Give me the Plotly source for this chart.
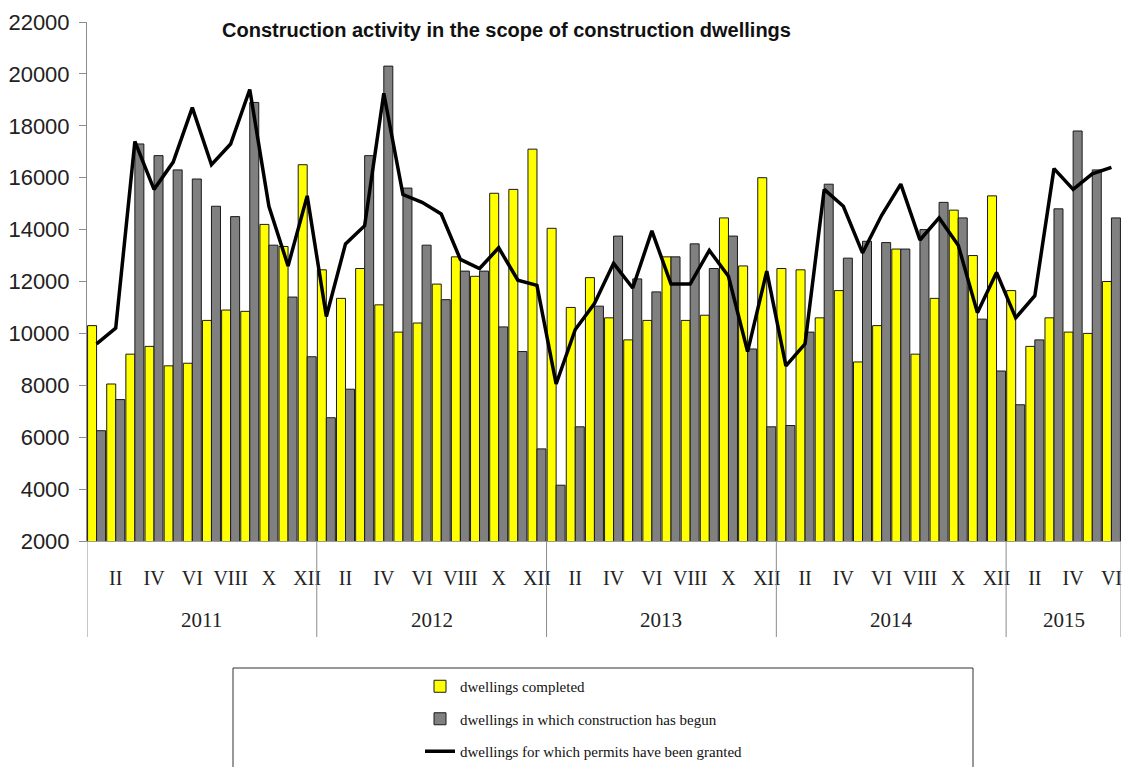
import plotly.graph_objects as go

years = [2011, 2012, 2013, 2014, 2015]
months_per_year = [12, 12, 12, 12, 6]
roman = ["I", "II", "III", "IV", "V", "VI", "VII", "VIII", "IX", "X", "XI", "XII"]

completed = [
    10300, 8050, 9200, 9500, 8750, 8850, 10500, 10900, 10850, 14200, 13350, 16500,
    12450, 11350, 12500, 11100, 10050, 10400, 11900, 12950, 12200, 15400, 15550, 17100,
    14050, 11000, 12150, 10600, 9750, 10500, 12950, 10500, 10700, 14450, 12600, 16000,
    12500, 12450, 10600, 11650, 8900, 10300, 13250, 9200, 11350, 14750, 13000, 15300,
    11650, 9500, 10600, 10050, 10000, 12000,
]
begun = [
    6250, 7450, 17300, 16850, 16300, 15950, 14900, 14500, 18900, 13400, 11400, 9100,
    6750, 7850, 16850, 20300, 15600, 13400, 11300, 12400, 12400, 10250, 9300, 5550,
    4150, 6400, 11050, 13750, 12100, 11600, 12950, 13450, 12500, 13750, 9400, 6400,
    6450, 10050, 15750, 12900, 13550, 13500, 13250, 14000, 15050, 14450, 10550, 8550,
    7250, 9750, 14800, 17800, 16300, 14450,
]
permits = [
    9600, 10200, 17400, 15550, 16600, 18700, 16500, 17300, 19400, 14900, 12600, 15300,
    10650, 13450, 14150, 19250, 15350, 15050, 14600, 12850, 12500, 13300, 12050, 11850,
    8050, 10150, 11150, 12700, 11750, 13950, 11900, 11900, 13200, 12200, 9300, 12400,
    8750, 9600, 15550, 14900, 13100, 14550, 15750, 13600, 14450, 13400, 10800, 12350,
    10600, 11450, 16350, 15550, 16150, 16400,
]

title_text = "Construction activity in the scope of construction dwellings"
series_names = [
    "dwellings completed",
    "dwellings in which construction has begun",
    "dwellings for which permits have been granted",
]

# build categories
cats, tickvals, ticktext = [], [], []
year_spans = []
for y, n in zip(years, months_per_year):
    start = len(cats)
    for m in range(n):
        c = f"{y}-{m + 1:02d}"
        cats.append(c)
        if (m + 1) % 2 == 0:
            tickvals.append(c)
            ticktext.append(roman[m])
    year_spans.append((y, start, len(cats) - 1))

fig = go.Figure()
fig.add_trace(go.Bar(
    x=cats, y=completed, name=series_names[0], legendgroup="a",
    marker=dict(color="#FFFF00", line=dict(color="#1a1a1a", width=1)),
))
fig.add_trace(go.Bar(
    x=cats, y=begun, name=series_names[1], legendgroup="b",
    marker=dict(color="#808080", line=dict(color="#1a1a1a", width=1)),
))
fig.add_trace(go.Scatter(
    x=cats, y=permits, name=series_names[2], legendgroup="c", mode="lines",
    line=dict(color="#000000", width=3.5),
))

# page body margin is removed via post_script, so the figure fills the window
W, H = 1123, 767
L, R, T, B = 87, 2, 22, 226
plot_h = H - T - B  # 519
plot_w = W - L - R


def py(px_from_axis):
    """paper y for a distance in px above (+) / below (-) the x axis."""
    return px_from_axis / plot_h


def pxx(window_x):
    return (window_x - L) / plot_w


shapes = []
divider_pos = [-0.5] + [end + 0.5 for (_, _, end) in year_spans]
for xp in divider_pos:
    shapes.append(dict(type="line", xref="x", yref="paper", x0=xp, x1=xp,
                       y0=0, y1=py(-96), line=dict(color="#8c8c8c", width=1)))
# legend box
shapes.append(dict(type="rect", xref="paper", yref="paper",
                   x0=pxx(233), x1=pxx(973), y0=py(-127), y1=py(-260),
                   line=dict(color="#333333", width=1), fillcolor="rgba(0,0,0,0)"))

annotations = []
for (y, s, e) in year_spans:
    annotations.append(dict(x=(s + e) / 2, y=py(-79), xref="x", yref="paper",
                            text=str(y), showarrow=False, yanchor="middle",
                            font=dict(family="Liberation Serif", size=21, color="#222222")))
annotations.append(dict(x=pxx(506), y=py(511), xref="paper", yref="paper", text=f"<b>{title_text}</b>",
                        showarrow=False, xanchor="center", yanchor="middle",
                        font=dict(family="Liberation Sans", size=20, color="#111111")))

fig.update_layout(
    width=W, height=H,
    margin=dict(l=L, r=R, t=T, b=B, autoexpand=False),
    paper_bgcolor="white", plot_bgcolor="white",
    barmode="group", bargap=0.06, bargroupgap=0,
    showlegend=True,
    legend=dict(x=pxx(420), y=py(-129), xanchor="left", yanchor="top",
                bgcolor="rgba(0,0,0,0)", borderwidth=0, tracegroupgap=10,
                font=dict(family="Liberation Serif", size=15, color="#111111")),
    shapes=shapes, annotations=annotations,
)
fig.update_xaxes(
    type="category", categoryorder="array", categoryarray=cats,
    tickmode="array", tickvals=tickvals, ticktext=ticktext,
    ticks="", ticklabelstandoff=19, automargin=False,
    tickfont=dict(family="Liberation Serif", size=20, color="#222222"),
    showline=True, linecolor="#9a9a9a", linewidth=1, showgrid=False,
    range=[-0.5, len(cats) - 0.5], tickangle=0,
)
fig.update_yaxes(
    range=[2000, 22000], tickmode="array", tickvals=list(range(2000, 22001, 2000)),
    tickformat="d", automargin=False, ticklabelstandoff=5,
    ticks="outside", ticklen=7, tickcolor="#8c8c8c",
    showline=True, linecolor="#8c8c8c", linewidth=1, showgrid=False, zeroline=False,
    tickfont=dict(family="Liberation Sans", size=22, color="#222222"),
)

fig.write_html(
    "out.html",
    config={"displayModeBar": False},
    post_script="document.body.style.margin='0';document.body.style.overflow='hidden';",
)
